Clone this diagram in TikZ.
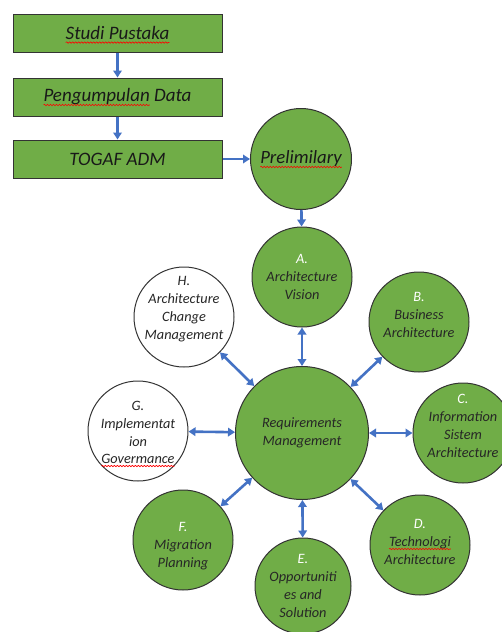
\documentclass[tikz,border=0pt]{standalone}
\usepackage{fontspec}
\setmainfont{Carlito}
\usetikzlibrary{arrows.meta,decorations.pathmorphing}
\definecolor{grn}{HTML}{70AD47}
\definecolor{arr}{HTML}{4472C4}
\tikzset{
  box/.style={draw=black!80, line width=1pt, fill=grn, minimum width=209pt, minimum height=38pt, inner sep=0pt},
  btext/.style={inner sep=0pt, outer sep=0pt, text=black!90, font=\fontsize{19}{22}\selectfont\itshape},
  phase/.style={circle, draw=black!80, line width=1pt, fill=grn, minimum size=100pt, inner sep=0pt},
  wphase/.style={phase, fill=white},
  ptext/.style={align=center, inner sep=0pt, outer sep=0pt, text=black!85, font=\fontsize{14.3}{18}\selectfont\itshape},
  flow/.style={arr, line width=2.6pt, -{Triangle[length=7pt,width=8.5pt]}},
  link/.style={arr, line width=2.6pt, {Triangle[length=7pt,width=8.5pt]}-{Triangle[length=7pt,width=8.5pt]}},
  squig/.style={red, line width=0.6pt, decorate, decoration={snake, segment length=3pt, amplitude=0.7pt}}
}
\newcommand{\ltr}[1]{\textcolor{white}{#1}}
\begin{document}
\begin{tikzpicture}[x=1pt,y=-1pt]
\useasboundingbox (0,0) rectangle (501,632);
% process boxes
\node[box] (studi) at (117.5,33) {};
\node[box] (peng) at (117.5,97) {};
\node[box] (togaf) at (117.5,159) {};
\node[btext] (studiT) at (studi) {Studi Pustaka};
\node[btext] (pengT) at (peng) {Pengumpulan Data};
\node[btext, anchor=base west] (pengW) at (pengT.base west) {\phantom{Pengumpulan}};
\node[btext] (togafT) at (togaf) {TOGAF ADM};
% phase circles
\node[phase, minimum size=101pt] (prelim) at (301,159) {};
\node[phase] (A) at (302,277) {};
\node[phase, minimum size=133pt] (RM) at (302,433) {};
\node[wphase] (H) at (184,317) {};
\node[wphase] (G) at (138,431) {};
\node[phase] (F) at (183,540) {};
\node[phase, minimum size=96pt] (E) at (303,586) {};
\node[phase] (D) at (420,545) {};
\node[phase] (C) at (463,433) {};
\node[phase] (B) at (419,322) {};
% circle texts
\node[btext, font=\fontsize{18.7}{22}\selectfont\itshape] (prelimT) at (prelim) {Prelimilary};
\node[ptext] (AT) at (A) {\ltr{A.}\\Architecture\\Vision};
\node[ptext] (RMT) at (RM) {Requirements\\Management};
\node[ptext, yshift=8pt] (HT) at (H) {H.\\Architecture\\Change\\Management};
\node[ptext, anchor=base] (GT1) at (138,446) {G.\\Implementat\\ion};
\node[ptext, anchor=base] (GT4) at (138,463) {Govermance};
\node[ptext, yshift=-6pt] (FT) at (F) {\ltr{F.}\\Migration\\Planning};
\node[ptext] (ET) at (E) {\ltr{E.}\\Opportuniti\\es and\\Solution};
\node[ptext, anchor=base] (DT1) at (420,528) {\ltr{D.}};
\node[ptext, anchor=base] (DT2) at (420,546) {Technologi};
\node[ptext, anchor=base] (DT3) at (420,564) {Architecture};
\node[ptext, yshift=7pt] (CT) at (C) {\ltr{C.}\\Information\\Sistem\\Architecture};
\node[ptext, yshift=7pt] (BT) at (B) {\ltr{B.}\\Business\\Architecture};
% spell-check squiggles
\foreach \w in {studiT,pengW,prelimT,GT4,DT2}
  \draw[squig] ([yshift=-3pt]\w.base west) -- ([yshift=-3pt]\w.base east);
% connectors
\draw[flow] (studi) -- (peng);
\draw[flow] (peng) -- (togaf);
\draw[flow] (togaf) -- (prelim);
\draw[flow] (prelim) -- (A);
\foreach \n in {A,B,C,D,E,F,G,H} \draw[link] (RM) -- (\n);
\end{tikzpicture}
\end{document}
